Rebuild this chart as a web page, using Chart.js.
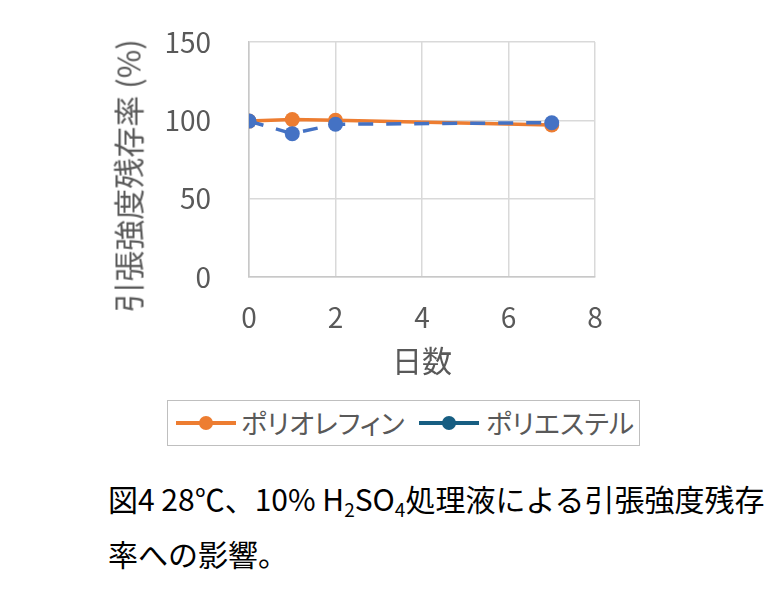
<!DOCTYPE html>
<html lang="ja">
<head>
<meta charset="utf-8">
<script src="https://cdn.jsdelivr.net/npm/chart.js@4/dist/chart.umd.min.js"></script>
<style>
  body { margin: 0; background: #fff; font-family: "Noto Sans CJK JP", sans-serif; }
  #wrap { position: relative; width: 778px; height: 612px; overflow: hidden; }
  #grafico { position: absolute; left: 0; top: 0; }
  #titolo-y {
    position: absolute; left: 127px; top: 176px;
    transform: translate(-50%, -50%) rotate(-90deg);
    white-space: nowrap; font-size: 31px; color: #595959; line-height: 1;
  }
  #legenda {
    position: absolute; left: 167px; top: 400px; width: 471px; height: 44px;
    border: 1px solid #bfbfbf; box-sizing: content-box;
    font-size: 27px; color: #595959; font-feature-settings: "palt";
  }
  .voce { position: absolute; top: 0; height: 44px; line-height: 44px; white-space: nowrap; }
  .linea { position: absolute; top: 20px; width: 60px; height: 4px; }
  .punto { position: absolute; top: 15px; width: 14px; height: 14px; border-radius: 50%; }
  .testo { position: absolute; top: 0; }
  #didascalia {
    position: absolute; left: 108px; top: 471px;
    font-size: 30px; line-height: 55px; color: #000; white-space: nowrap;
  }
  #didascalia sub { font-size: 19px; vertical-align: -6px; line-height: 0; }
</style>
</head>
<body>
<div id="wrap">
  <canvas id="grafico" width="778" height="390"></canvas>
  <div id="titolo-y">引張強度残存率 (%)</div>
  <div id="legenda"></div>
  <div id="didascalia">図4 28℃、10% H<sub>2</sub>SO<sub>4</sub>処理液による引張強度残存<br>率への影響。</div>
</div>
<script>
// dati
const giorni = [0, 1, 2, 7];
const poliolefina = [99.5, 100.5, 100, 97];
const poliestere = [99.5, 91.5, 97.5, 98.5];
const tickX = [0, 2, 4, 6, 8];
const tickY = [0, 50, 100, 150];
const nomiSerie = ["ポリオレフィン", "ポリエステル"];
const coloriLinea = ["#ed7d31", "#4472c4"];
const coloriLegenda = ["#ed7d31", "#175e82"];

const grigio = "#595959";
const fontTick = { family: "'Noto Sans CJK JP', sans-serif", size: 28 };

function punti(serie) {
    return giorni.map((g, i) => ({ x: g, y: serie[i] }));
}

const ctx = document.getElementById("grafico").getContext("2d");
new Chart(ctx, {
    type: "line",
    data: {
        datasets: [
            {
                label: nomiSerie[1],
                data: punti(poliestere),
                borderColor: coloriLinea[1],
                backgroundColor: coloriLinea[1],
                borderWidth: 3.5,
                borderDash: [15, 13],
                pointRadius: 7.5,
                pointBorderWidth: 0,
                pointBackgroundColor: coloriLinea[1],
                tension: 0,
                order: 0
            },
            {
                label: nomiSerie[0],
                data: punti(poliolefina),
                borderColor: coloriLinea[0],
                backgroundColor: coloriLinea[0],
                borderWidth: 3.5,
                pointRadius: 7.5,
                pointBorderWidth: 0,
                pointBackgroundColor: coloriLinea[0],
                tension: 0,
                order: 1
            }
        ]
    },
    options: {
        responsive: false,
        animation: false,
        layout: { padding: { top: 42, right: 183, left: 0, bottom: 0 } },
        plugins: { legend: { display: false }, tooltip: { enabled: false } },
        scales: {
            x: {
                type: "linear",
                min: tickX[0],
                max: tickX[tickX.length - 1],
                afterBuildTicks: s => { s.ticks = tickX.map(v => ({ value: v })); },
                afterFit: s => { s.height = 113; },
                grid: { color: "#d9d9d9", lineWidth: 1.5, drawTicks: false },
                border: { color: "#c8c8c8", width: 1.5 },
                ticks: { color: grigio, font: fontTick, padding: 24, maxRotation: 0 },
                title: {
                    display: true,
                    text: "日数",
                    color: grigio,
                    font: { family: "'Noto Sans CJK JP', sans-serif", size: 30 },
                    padding: { top: 0, bottom: 11 }
                }
            },
            y: {
                min: tickY[0],
                max: tickY[tickY.length - 1],
                afterBuildTicks: s => { s.ticks = tickY.map(v => ({ value: v })); },
                afterFit: s => { s.width = 249; },
                // spazio tra etichette e asse ottenuto con tacche trasparenti
                grid: { color: "#d9d9d9", lineWidth: 1.5, drawTicks: true, tickLength: 34, tickColor: "rgba(0,0,0,0)" },
                border: { color: "#c8c8c8", width: 1.5 },
                ticks: { color: grigio, font: fontTick, padding: 4 }
            }
        }
    }
});

// legenda in HTML (linea + marcatore come nell'originale)
const legenda = document.getElementById("legenda");
const posizioni = [[8, 73], [251, 318]];
nomiSerie.forEach((nome, i) => {
    const voce = document.createElement("div");
    voce.className = "voce";
    voce.style.left = posizioni[i][0] + "px";
    const linea = document.createElement("div");
    linea.className = "linea";
    linea.style.left = "0px";
    linea.style.background = coloriLegenda[i];
    const punto = document.createElement("div");
    punto.className = "punto";
    punto.style.left = "23px";
    punto.style.background = coloriLegenda[i];
    const testo = document.createElement("div");
    testo.className = "testo";
    testo.style.left = (posizioni[i][1] - posizioni[i][0]) + "px";
    testo.textContent = nome;
    voce.appendChild(linea);
    voce.appendChild(punto);
    voce.appendChild(testo);
    legenda.appendChild(voce);
});
</script>
</body>
</html>
